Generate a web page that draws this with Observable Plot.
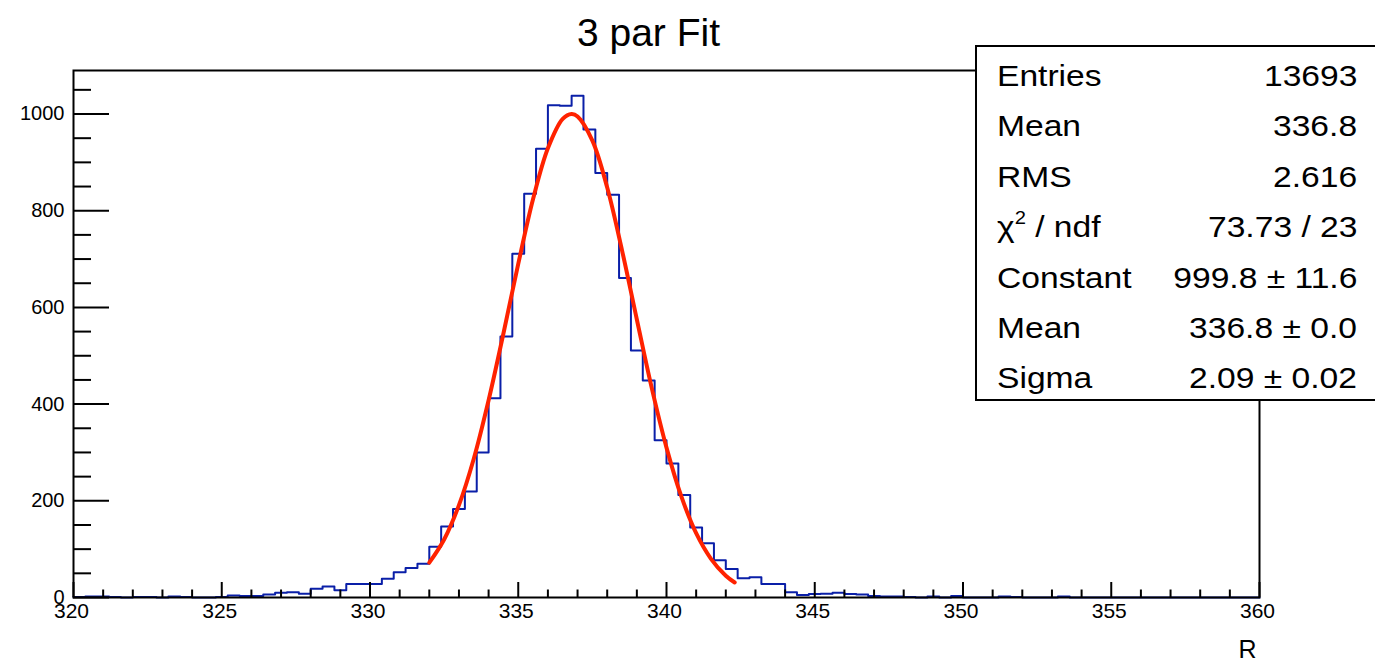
<!DOCTYPE html>
<html>
<head>
<meta charset="utf-8">
<script src="https://cdn.jsdelivr.net/npm/d3@7"></script>
<script src="https://cdn.jsdelivr.net/npm/@observablehq/plot@0.6"></script>
<style>
  html, body { margin: 0; padding: 0; background: #fff; }
  #wrap { position: relative; width: 1375px; height: 663px; overflow: hidden; font-family: "Liberation Sans", Arial, Helvetica, sans-serif; }
  #stats { position: absolute; left: 975px; top: 45px; width: 410px; height: 356px; border: 2px solid #000; background: #fff; box-sizing: border-box; }
  #stats .row { position: absolute; left: 20px; width: 360px; height: 40px; font-size: 30px; line-height: 40px; color: #000; white-space: nowrap; }
  #stats .lab { position: absolute; left: 0; transform: scaleX(1.12); transform-origin: left center; }
  #stats .val { position: absolute; right: 0; transform: scaleX(1.12); transform-origin: right center; }
  #stats sup { font-size: 18px; line-height: 0; vertical-align: baseline; position: relative; top: -13px; }
</style>
</head>
<body>
<div id="wrap"></div>
<script>
// ---- Data ----
const title = "3 par Fit";
const xLabel = "R";
const xMin = 320, xMax = 360, nBins = 100;
const yMax = 1090;

// bin contents (100 bins, width 0.4 from 320 to 360)
const counts = [
  1, 2, 2, 1, 0, 1, 1, 0, 2, 1,
  0, 0, 1, 4, 3, 3, 6, 10, 11, 8,
  18, 23, 15, 28, 28, 28, 39, 52, 61, 70,
  105, 147, 183, 219, 300, 412, 540, 711, 835, 928,
  1018, 1017, 1038, 968, 878, 833, 661, 511, 449, 325,
  277, 212, 145, 112, 77, 59, 40, 42, 28, 28,
  11, 5, 7, 8, 10, 7, 6, 3, 2, 2,
  1, 0, 2, 0, 3, 0, 0, 0, 2, 1,
  0, 0, 0, 2, 0, 0, 0, 0, 0, 0,
  0, 0, 0, 0, 0, 0, 0, 0, 0, 0
];

// fitted curve
const fitX = [332.0, 332.5, 333.0, 333.5, 334.0, 334.5, 335.0, 335.5, 336.0, 336.5, 336.8, 337.0, 337.5, 338.0, 338.5, 339.0, 339.5, 340.0, 340.5, 341.0, 341.5, 342.0, 342.3];
const fitY = [72, 120, 191, 287, 408, 546, 690, 824, 929, 990, 1000, 995, 945, 848, 718, 575, 434, 310, 209, 133, 80, 45, 31];

// axis ticks
const xMajor = [320, 325, 330, 335, 340, 345, 350, 355, 360];
const xMinor = [321, 322, 323, 324, 326, 327, 328, 329, 331, 332, 333, 334, 336, 337, 338, 339, 341, 342, 343, 344, 346, 347, 348, 349, 351, 352, 353, 354, 356, 357, 358, 359];
const yMajor = [0, 200, 400, 600, 800, 1000];
const yMinor = [50, 100, 150, 250, 300, 350, 450, 500, 550, 650, 700, 750, 850, 900, 950, 1050];

// stats box
const statLabels = ["Entries", "Mean", "RMS", "χ<sup>2</sup> / ndf", "Constant", "Mean", "Sigma"];
const statValues = ["13693", "336.8", "2.616", "73.73 / 23", "999.8 ± 11.6", "336.8 ± 0.0", "2.09 ± 0.02"];

// ---- Build ----
const binW = (xMax - xMin) / nBins;
const histPts = counts.map((c, i) => ({x: xMin + i * binW, y: c}));
histPts.push({x: xMax, y: counts[counts.length - 1]});
const fit = fitX.map((x, i) => ({x, y: fitY[i]}));

const W = 1375, H = 663;
const mL = 73, mR = 116, mT = 70, mB = 66;
const frameW = W - mL - mR, frameH = H - mT - mB;

const chart = Plot.plot({
  width: W, height: H,
  marginLeft: mL, marginRight: mR, marginTop: mT, marginBottom: mB,
  style: {fontFamily: "'Liberation Sans', Arial, Helvetica, sans-serif", fontSize: "21px", color: "#000", background: "#fff"},
  x: {domain: [xMin, xMax], axis: null},
  y: {domain: [0, yMax], axis: null},
  marks: [
    Plot.line(histPts, {x: "x", y: "y", curve: "step-after", stroke: "#0a1fa8", strokeWidth: 2}),
    Plot.line(fit, {x: "x", y: "y", curve: "catmull-rom", stroke: "#ff2200", strokeWidth: 4}),
    // ticks drawn inward (ROOT style)
    Plot.tickX(xMajor, {x: d => d, insetTop: frameH - 15, stroke: "#000", strokeWidth: 2}),
    Plot.tickX(xMinor, {x: d => d, insetTop: frameH - 7.5, stroke: "#000", strokeWidth: 2}),
    Plot.tickY(yMajor, {y: d => d, insetRight: frameW - 36, stroke: "#000", strokeWidth: 2}),
    Plot.tickY(yMinor, {y: d => d, insetRight: frameW - 18, stroke: "#000", strokeWidth: 2}),
    Plot.frame({stroke: "#000", strokeWidth: 2}),
    // tick labels
    Plot.text(xMajor, {x: d => d, frameAnchor: "bottom", dy: 6, lineAnchor: "top", text: d => String(d), fontSize: 21, dx: -2}),
    Plot.text(yMajor, {y: d => d, frameAnchor: "left", dx: -9, textAnchor: "end", text: d => String(d), fontSize: 20}),
    // axis title
    Plot.text([xLabel], {frameAnchor: "bottom-right", dx: -3, dy: 52, lineAnchor: "middle", textAnchor: "end", fontSize: 25}),
    // chart title
    Plot.text([title], {frameAnchor: "top", dx: -18, dy: -25, lineAnchor: "bottom", fontSize: 39})
  ]
});

const wrap = document.getElementById("wrap");
wrap.appendChild(chart);

const stats = document.createElement("div");
stats.id = "stats";
statLabels.forEach((lab, i) => {
  const row = document.createElement("div");
  row.className = "row";
  row.style.top = (9 + i * 50.4) + "px";
  row.innerHTML = `<span class="lab">${lab}</span><span class="val">${statValues[i]}</span>`;
  stats.appendChild(row);
});
wrap.appendChild(stats);
</script>
</body>
</html>
